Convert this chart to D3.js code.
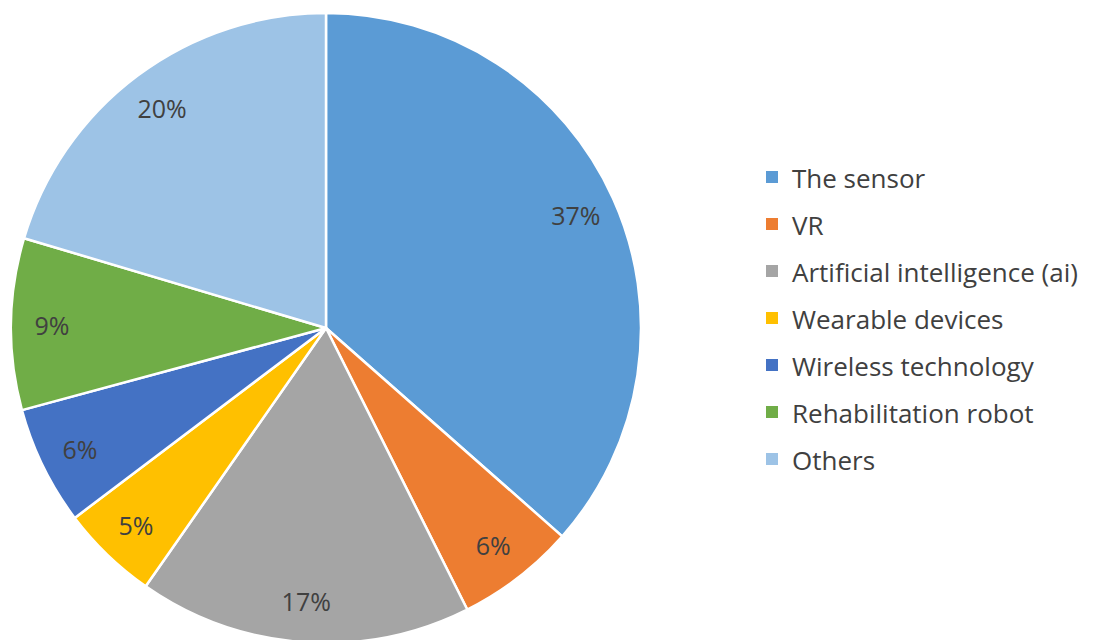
<!DOCTYPE html>
<html><head><meta charset="utf-8">
<script src="https://cdn.jsdelivr.net/npm/d3@7"></script>
<style>body{margin:0;background:#fff;}svg{display:block;}</style>
</head><body>
<svg id="chart" width="1095" height="640"></svg>
<script>
const categories = ["The sensor","VR","Artificial intelligence (ai)","Wearable devices","Wireless technology","Rehabilitation robot","Others"];
const values = [36.5,6.1,17.1,5.0,6.1,8.8,20.4];
const labels = ["37%","6%","17%","5%","6%","9%","20%"];
const colors = ["#5B9BD5","#ED7D31","#A5A5A5","#FFC000","#4472C4","#70AD47","#9DC3E6"];

const svg = d3.select("#chart");
const cx = 326, cy = 328, R = 315;
const g = svg.append("g").attr("transform", `translate(${cx},${cy})`);
const pie = d3.pie().sort(null).value(d => d)(values);
const arc = d3.arc().innerRadius(0).outerRadius(R);
const labelArc = d3.arc().innerRadius(R*0.87).outerRadius(R*0.87);
const color = d3.scaleOrdinal().domain(categories).range(colors);

g.selectAll("path").data(pie).enter().append("path")
  .attr("d", arc)
  .attr("fill", (d,i) => color(categories[i]))
  .attr("stroke", "#fff").attr("stroke-width", 2.5).attr("stroke-linejoin","round");

g.selectAll("text.lbl").data(pie).enter().append("text")
  .attr("class","lbl")
  .attr("transform", d => `translate(${labelArc.centroid(d)})`)
  .attr("text-anchor","middle").attr("dominant-baseline","central")
  .attr("font-family","'Open Sans', sans-serif").attr("font-size", 25)
  .attr("fill","#404040")
  .text((d,i) => labels[i]);

const leg = svg.append("g").attr("transform","translate(766,177)");
const rows = leg.selectAll("g").data(categories).enter().append("g")
  .attr("transform", (d,i) => `translate(0,${i*47})`);
rows.append("rect").attr("x",0).attr("y",-6).attr("width",12).attr("height",12)
  .attr("fill", d => color(d));
rows.append("text").attr("x",26).attr("y",1).attr("dominant-baseline","central")
  .attr("font-family","'Open Sans', sans-serif").attr("font-size",26)
  .attr("fill","#404040").text(d => d);
</script>
</body></html>
